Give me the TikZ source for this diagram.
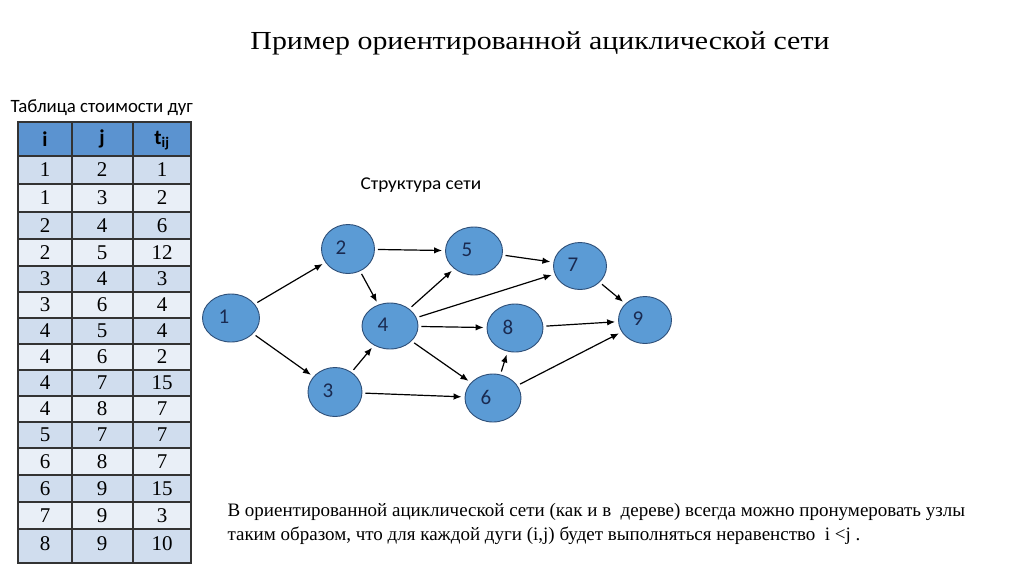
\documentclass[tikz,border=0pt]{standalone}
\usepackage{fontspec}
\usepackage{graphicx}
\setmainfont{Liberation Serif}
\newfontfamily\carl{Carlito}
\usetikzlibrary{arrows.meta,shapes.geometric}
\definecolor{nodefill}{HTML}{5B9BD5}
\definecolor{nodeline}{HTML}{2E4F78}
\definecolor{hdrfill}{HTML}{5B93D0}
\definecolor{rowdark}{HTML}{D0DDEE}
\definecolor{rowlight}{HTML}{E9EFF7}
\definecolor{labelcol}{HTML}{1A2A50}
\tikzset{
  vert/.style={ellipse, draw=nodeline, fill=nodefill, line width=0.9pt, inner sep=0pt},
  vlbl/.style={font=\carl\fontsize{21}{21}\selectfont, text=labelcol, inner sep=0pt},
  arc/.style={-{Latex[length=8pt,width=6.5pt]}, line width=1.2pt, shorten >=3pt, shorten <=3pt},
  cell/.style={font=\fontsize{21}{21}\selectfont},
  hcell/.style={font=\carl\bfseries\fontsize{21}{21}\selectfont},
}
\begin{document}
\begin{tikzpicture}[x=1pt,y=-1pt]
\useasboundingbox (0,0) rectangle (1024,574);
\fill[white] (0,0) rectangle (1024,574);
% title
\node (title) at (540,43) {\scalebox{1.15}[1]{\fontsize{26}{26}\selectfont Пример ориентированной ациклической сети}};
\node[anchor=west] (ttab) at (7,108) {\carl\fontsize{18.8}{18.8}\selectfont Таблица стоимости дуг};
% table
\def\xa{18}\def\xb{72}\def\xc{133}\def\xd{191}
\fill[hdrfill] (\xa,122) rectangle (\xd,156);
\foreach \t/\b/\c in {156/184/rowdark,184/212/rowlight,212/239/rowdark,239/266/rowlight,266/292/rowdark,292/318/rowlight,318/344/rowdark,344/370/rowlight,370/396/rowdark,396/422/rowlight,422/448/rowdark,448/475/rowlight,475/502/rowdark,502/529/rowlight,529/563/rowdark}
  {\fill[\c] (\xa,\t) rectangle (\xd,\b);}
\foreach \y in {156,184,212,239,266,292,318,344,370,396,422,448,475,502,529}
  {\draw[line width=1.6pt, draw=black!80] (\xa,\y) -- (\xd,\y);}
\draw[line width=1.6pt, draw=black!80] (\xa,122) rectangle (\xd,563);
\draw[line width=1.6pt, draw=black!80] (\xb,122) -- (\xb,563) (\xc,122) -- (\xc,563);
\node[hcell] (hi) at (45,139) {i};
\node[hcell] (hj) at (102,139) {j};
\node[hcell] (ht) at (162,141) {t\textsubscript{ij}};
\foreach \r/\i/\j/\t/\y in {1/1/2/1/170,2/1/3/2/198,3/2/4/6/226,4/2/5/12/253,5/3/4/3/279,6/3/6/4/305,7/4/5/4/331,8/4/6/2/357,9/4/7/15/383,10/4/8/7/409,11/5/7/7/435,12/6/8/7/462,13/6/9/15/489,14/7/9/3/516,15/8/9/10/544}
{
  \node[cell] (ri\r) at (45,\y) {\i};
  \node[cell] (rj\r) at (102,\y) {\j};
  \node[cell] (rt\r) at (162,\y) {\t};
}
% network
\node[anchor=west] (struct) at (357,185) {\scalebox{1.07}[1]{\carl\fontsize{18}{18}\selectfont Структура сети}};
\node[vert, minimum width=57pt, minimum height=48pt] (n1) at (231,318) {};
\node[vert, minimum width=53pt, minimum height=49pt] (n2) at (348,249) {};
\node[vert, minimum width=54pt, minimum height=49pt] (n3) at (335,392) {};
\node[vert, minimum width=56pt, minimum height=46pt] (n4) at (390,326) {};
\node[vert, minimum width=57pt, minimum height=48pt] (n5) at (474,251) {};
\node[vert, minimum width=56pt, minimum height=48pt] (n6) at (493,398) {};
\node[vert, minimum width=53pt, minimum height=47pt] (n7) at (580,266) {};
\node[vert, minimum width=56pt, minimum height=48pt] (n8) at (515,328) {};
\node[vert, minimum width=53pt, minimum height=47pt] (n9) at (645,320) {};
\foreach \n in {1,...,9}
  {\node[vlbl] (l\n) at ([xshift=-7pt,yshift=1pt]n\n.center) {\n};}
\draw[arc] (n1) -- (n2);
\draw[arc] (n1) -- (n3);
\draw[arc] (n2) -- (n5);
\draw[arc] (n2) -- (n4);
\draw[arc] (n3) -- (n4);
\draw[arc] (n3) -- (n6);
\draw[arc] (n4) -- (n5);
\draw[arc] (n4) -- (n7);
\draw[arc] (n4) -- (n8);
\draw[arc] (n4) -- (n6);
\draw[arc] (n5) -- (n7);
\draw[arc] (n7) -- (n9);
\draw[arc] (n8) -- (n9);
\draw[arc] (n6) -- (n8);
\draw[arc] (n6) -- (n9);
% bottom text
\node[anchor=west, align=left, font=\fontsize{19}{24}\selectfont] (note) at (224,524) {В ориентированной ациклической сети (как и в\ \ дереве) всегда можно пронумеровать узлы\\таким образом, что для каждой дуги (i,j) будет выполняться неравенство\ \ i <j .};
\end{tikzpicture}
\end{document}
